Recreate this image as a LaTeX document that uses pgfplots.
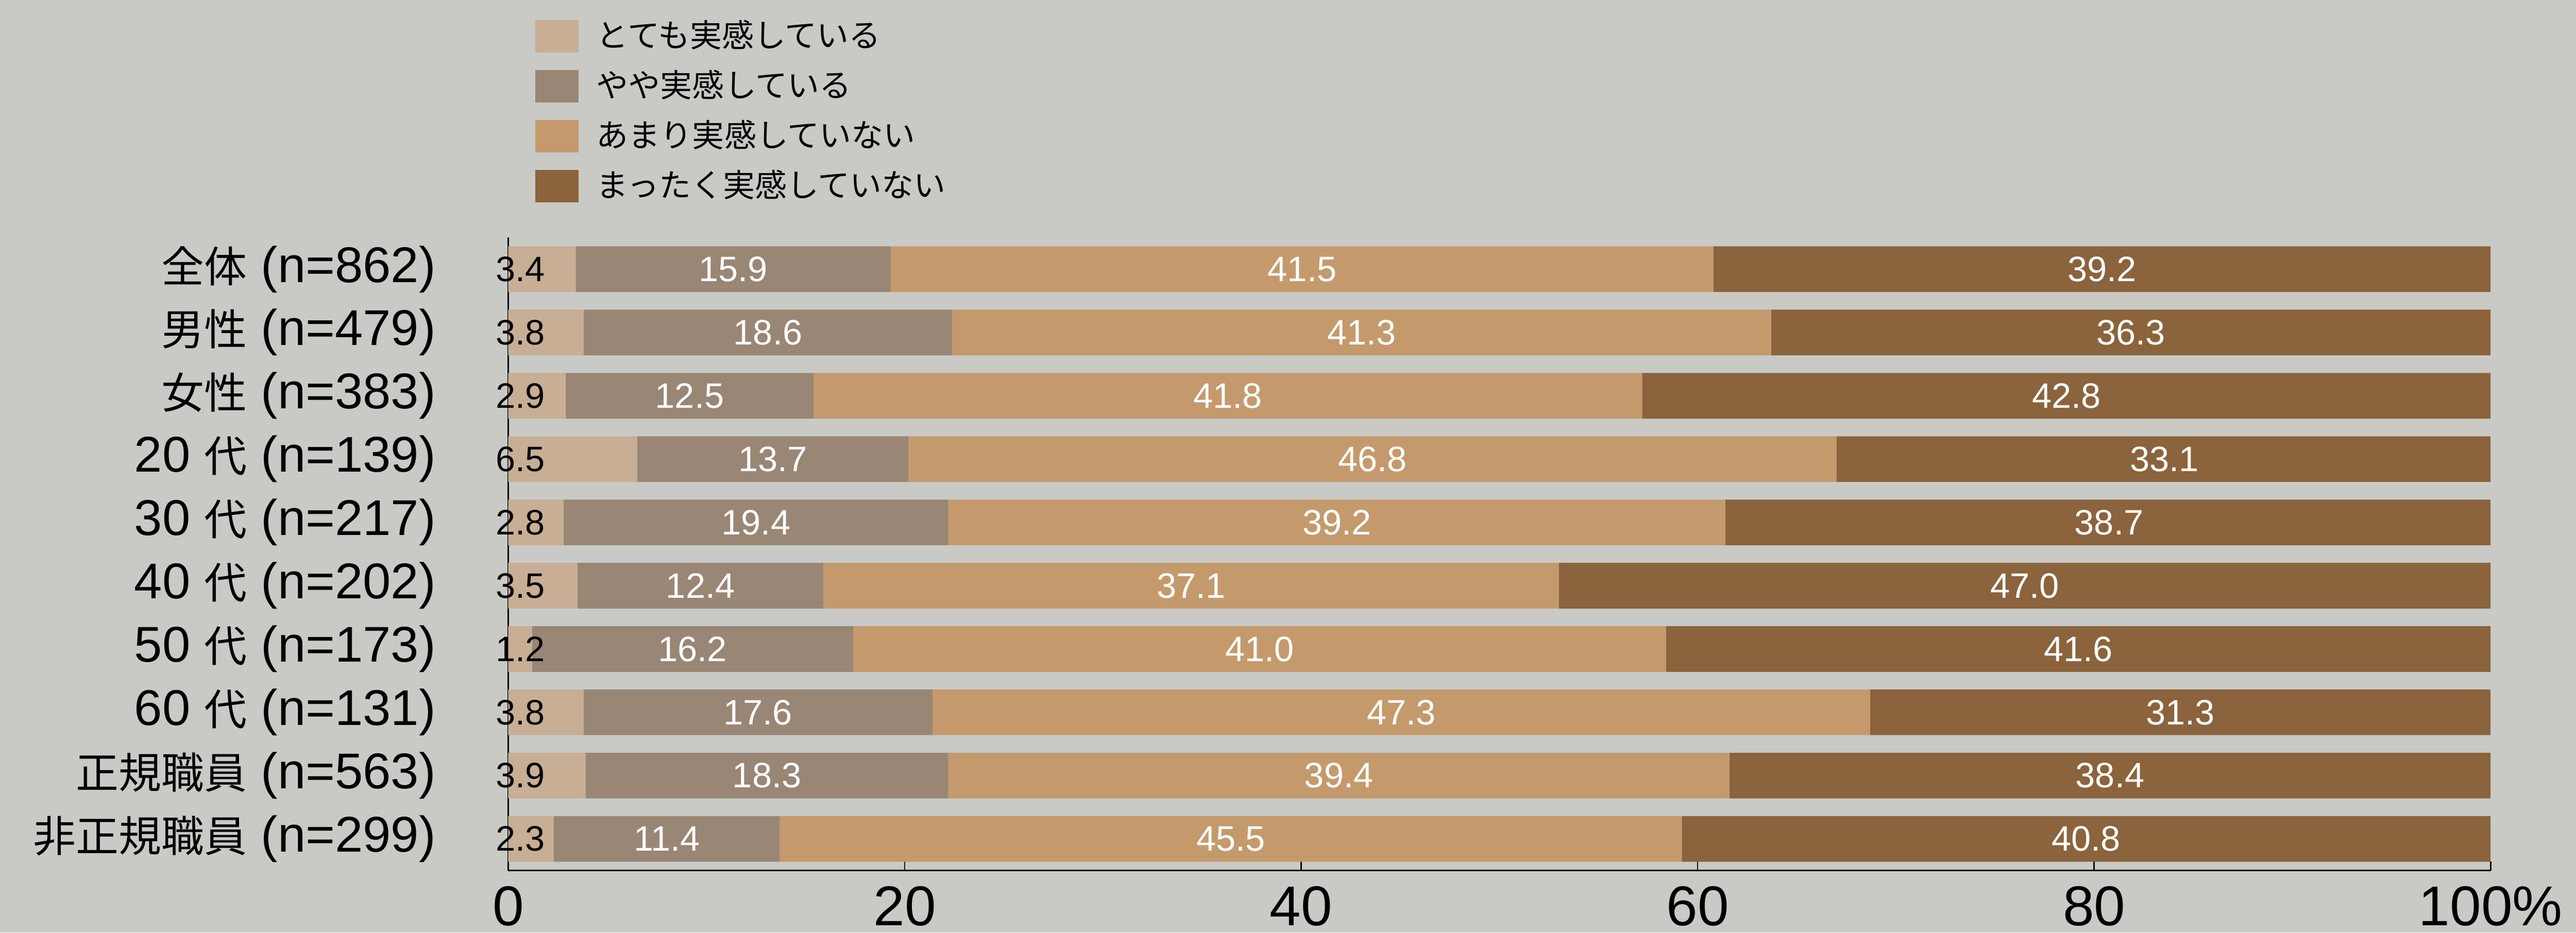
\documentclass[border=0pt]{standalone}
\usepackage{fontspec}
\setmainfont{Liberation Sans}
\newfontfamily\jp[Scale=0.85]{Noto Sans CJK JP}
\usepackage{pgfplots}
\usepackage{pgfplotstable}
\pgfplotsset{compat=1.18}
\definecolor{bg}{HTML}{C9CAC5}
\definecolor{c1}{HTML}{C7AE95}
\definecolor{c2}{HTML}{998675}
\definecolor{c3}{HTML}{C49A6D}
\definecolor{c4}{HTML}{8B633C}
\pgfplotstableread{
cat a b c d
0 3.4 15.9 41.5 39.2
1 3.8 18.6 41.3 36.3
2 2.9 12.5 41.8 42.8
3 6.5 13.7 46.8 33.1
4 2.8 19.4 39.2 38.7
5 3.5 12.4 37.1 47.0
6 1.2 16.2 41.0 41.6
7 3.8 17.6 47.3 31.3
8 3.9 18.3 39.4 38.4
9 2.3 11.4 45.5 40.8
}\data
\pgfplotsset{base/.style={scale only axis, width=437.58pt, height=139.82pt,
  xmin=0, xmax=100, ymin=-0.5, ymax=9.5, y dir=reverse,
  at={(0pt,0pt)}, anchor=south west}}
\begin{document}
\begin{tikzpicture}
\fill[bg] (-112.19pt,-13.72pt) rectangle (456.43pt,192.28pt);
\begin{axis}[base, xbar stacked, bar width=10.08pt,
  axis x line*=bottom, axis y line*=left,
  axis line style={line width=0.3pt, black},
  xtick={0,20,40,60,80,100}, xticklabels={0,20,40,60,80,100\%},
  tick align=inside, major tick length=2pt,
  x tick style={line width=0.3pt, black},
  ytick={0,...,9},
  yticklabels={{\jp 全体} (n=862),{\jp 男性} (n=479),{\jp 女性} (n=383),20 {\jp 代} (n=139),30 {\jp 代} (n=217),40 {\jp 代} (n=202),50 {\jp 代} (n=173),60 {\jp 代} (n=131),{\jp 正規職員} (n=563),{\jp 非正規職員} (n=299)},
  y tick style={draw=none},
  yticklabel style={font=\fontsize{11.1}{13}\selectfont, inner sep=0pt, xshift=-15.8pt, anchor=east},
  xticklabel style={font=\fontsize{12.4}{14}\selectfont, inner sep=0pt, anchor=north, yshift=-3.3pt},
  legend style={at={(0.01364,1.3438)}, anchor=north west, draw=none, fill=none,
    inner sep=0pt, outer sep=0pt, row sep=3.45pt, column sep=4pt,
    font=\fontsize{8.3}{9.6}\selectfont\jp,
    nodes={inner sep=0pt, text height=5.6pt, text depth=1.6pt}},
  legend cell align=left,
  legend image code/.code={\fill[#1] (0pt,-3.2pt) rectangle (9.52pt,3.99pt);},
]
\addplot[fill=c1, draw=none] table[x=a, y=cat]{\data};
\addlegendentry{とても実感している}
\addplot[fill=c2, draw=none] table[x=b, y=cat]{\data};
\addlegendentry{やや実感している}
\addplot[fill=c3, draw=none] table[x=c, y=cat]{\data};
\addlegendentry{あまり実感していない}
\addplot[fill=c4, draw=none] table[x=d, y=cat]{\data};
\addlegendentry{まったく実感していない}
\end{axis}
\begin{axis}[base, hide axis, nodes near coords, point meta=explicit,
  every node near coord/.append style={font=\fontsize{7.8}{9}\selectfont, inner sep=0pt, anchor=center},
  /pgf/number format/fixed, /pgf/number format/fixed zerofill,
  /pgf/number format/precision=1, /pgf/number format/assume math mode=true]
\addplot[draw=none, mark=none, every node near coord/.append style={black}] table[x expr=0.62, y=cat, meta=a]{\data};
\addplot[draw=none, mark=none, every node near coord/.append style={white}] table[x expr=\thisrow{a}+0.5*\thisrow{b}, y=cat, meta=b]{\data};
\addplot[draw=none, mark=none, every node near coord/.append style={white}] table[x expr=\thisrow{a}+\thisrow{b}+0.5*\thisrow{c}, y=cat, meta=c]{\data};
\addplot[draw=none, mark=none, every node near coord/.append style={white}] table[x expr=\thisrow{a}+\thisrow{b}+\thisrow{c}+0.5*\thisrow{d}, y=cat, meta=d]{\data};
\end{axis}
\pgfresetboundingbox
\useasboundingbox (-112.19pt,-13.72pt) rectangle (456.43pt,192.28pt);
\end{tikzpicture}
\end{document}
